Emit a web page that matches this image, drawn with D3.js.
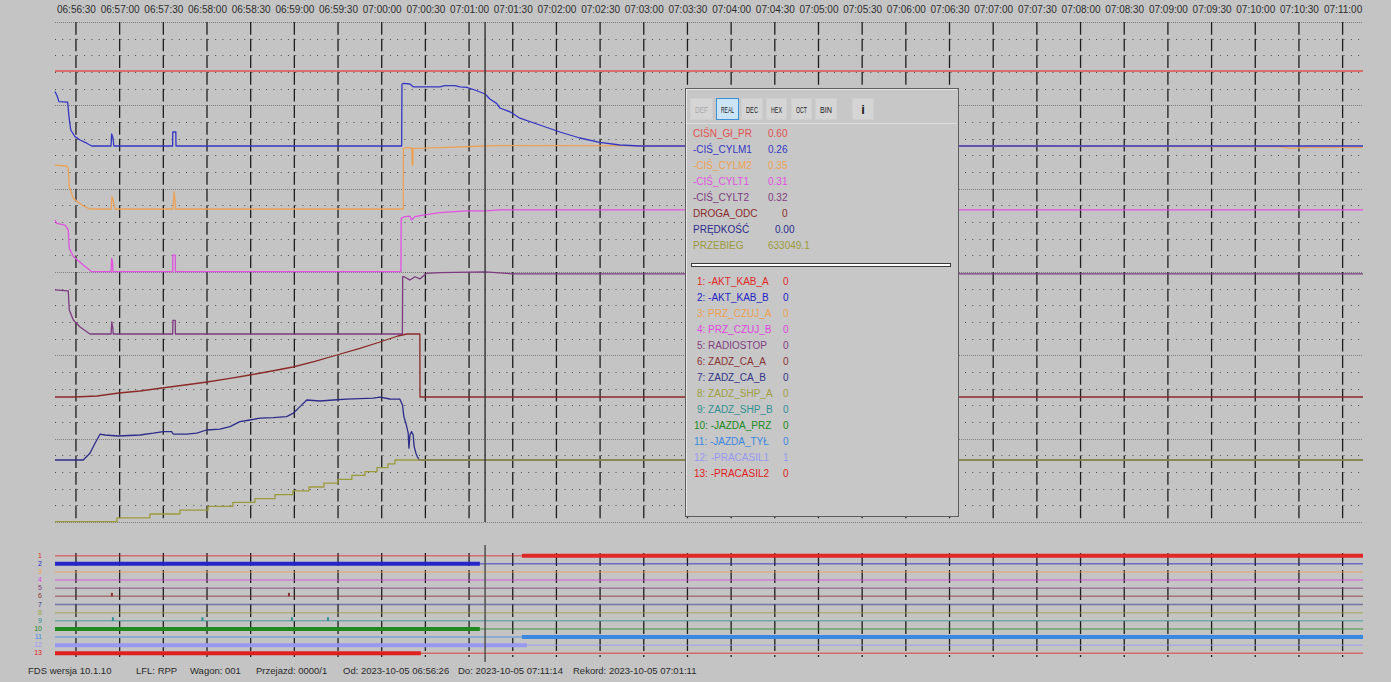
<!DOCTYPE html>
<html>
<head>
<meta charset="utf-8">
<script src="https://cdn.jsdelivr.net/npm/d3@7"></script>
<style>
  html, body { margin: 0; padding: 0; background: #c4c4c4; overflow: hidden; }
  svg { display: block; }
  text { font-family: "Liberation Sans", Arial, sans-serif; }
</style>
</head>
<body>
<svg id="chart" width="1391" height="682"></svg>
<script>
// ---------------------------------------------------------------
// Recorder data. Times are seconds after 06:56:00 (2023-10-05).
// ---------------------------------------------------------------
const tickLabels = ["06:56:30","06:57:00","06:57:30","06:58:00","06:58:30","06:59:00","06:59:30",
  "07:00:00","07:00:30","07:01:00","07:01:30","07:02:00","07:02:30","07:03:00","07:03:30",
  "07:04:00","07:04:30","07:05:00","07:05:30","07:06:00","07:06:30","07:07:00","07:07:30",
  "07:08:00","07:08:30","07:09:00","07:09:30","07:10:00","07:10:30","07:11:00"];
const viewStart = 15.6;
const recordEnd = "07:11:14";
const cursorTime = "07:01:11";

// CIŚN_Gł_PR [MPa]
const mainPipe = [[15.6, 0.60], [914, 0.60]];

// -CIŚ_CYLM1 [MPa]
const cylM1 = [[15.6,0.272],[17.2,0.247],[18.3,0.222],[24.3,0.219],[25.2,0.147],[26.4,0.080],[29.3,0.047],
  [32.8,0.030],[37.4,0.014],[40.8,0],[54.1,0],[54.5,0.06],[55.0,0.05],[55.6,0.03],[56.0,0],
  [96.4,0],[96.5,0.07],[98.6,0.07],[98.7,0],[253.7,0],[253.9,0.31],[255.2,0.313],[259.4,0.31],
  [261.6,0.296],[280,0.296],[283.4,0.302],[290.3,0.302],[293.7,0.296],[298.4,0.293],[304.0,0.28],
  [311,0.26],[314.3,0.235],[318.9,0.213],[321.2,0.19],[328.1,0.171],[334.9,0.139],[348.6,0.105],
  [362.4,0.07],[376.1,0.04],[389.8,0.018],[403.6,0.005],[417.3,0],[914,0]];

// -CIŚ_CYLM2 [MPa]
const cylM2 = [[15.6,0.244],[23.6,0.239],[24.7,0.226],[25.4,0.124],[28.2,0.059],[35.0,0.017],[39.6,0],
  [54.1,0],[54.7,0.068],[55.4,0.056],[56.8,0],[96.6,0],[97.4,0.096],[98.0,0.05],[98.3,0],
  [254.8,0],[254.9,0.337],[257.1,0.341],[260.7,0.339],[260.9,0.244],[261.4,0.244],[261.6,0.337],
  [263.9,0.337],[279.9,0.341],[311,0.35],[321.2,0.352],[856.8,0.347],[863.7,0.337],[877.4,0.342],[914,0.342]];

// -CIŚ_CYLT1 [MPa]
const cylT1 = [[15.6,0.264],[16.8,0.247],[22.5,0.238],[24.7,0.213],[25.4,0.119],[28.2,0.077],[35.0,0.034],
  [40.8,0],[54.1,0],[54.5,0.068],[55.1,0.05],[55.4,0],[96.4,0],[96.5,0.085],[98.2,0.085],[98.3,0],
  [253.2,0],[253.4,0.272],[255.9,0.281],[259.4,0.284],[260.5,0.264],[262.8,0.281],[268.5,0.289],
  [279.9,0.301],[298.3,0.31],[311,0.31],[321.2,0.315],[914,0.315]];

// -CIŚ_CYLT2 [MPa]
const cylT2 = [[15.6,0.227],[24.7,0.222],[25.4,0.124],[28.2,0.072],[32.8,0.036],[39.6,0],
  [54.1,0],[54.6,0.062],[55.3,0.03],[55.6,0],[96.4,0],[96.6,0.07],[98.2,0.07],[98.3,0],
  [254.2,0],[254.4,0.295],[255.4,0.295],[259.4,0.278],[262.8,0.295],[266.2,0.284],[270.8,0.313],
  [279.9,0.316],[311,0.32],[330,0.31],[914,0.31]];

// DROGA_ODC [m]
const distance = [[15.6,0],[29.3,0],[44.4,25],[59.5,100],[74,150],[89.1,225],[104.9,300],[120,375],
  [135.8,463],[149.5,550],[164.6,650],[179.0,750],[194.1,888],[209.2,1050],[225,1213],[238.8,1375],
  [251.1,1525],[257.3,1575],[266.2,1575],[266.3,0],[914,0]];

// PRĘDKOŚĆ [km/h]
const speed = [[15.6,0],[35.0,0],[39.6,3.4],[43.1,8.4],[46.5,12.9],[49.9,12.5],[59.1,12],[74.0,12.5],
  [83.1,13.4],[90.0,14.2],[95.7,14.2],[96.8,13],[106.0,12.9],[112.9,13.4],[119.8,15],[128.9,15.4],
  [135.8,16.7],[142.6,19.2],[149.5,20],[156.4,20.9],[165.5,21.2],[174.7,21.7],[179.3,23.4],[183.9,26.7],
  [188.5,30],[197.7,29.5],[206.7,30],[215.9,30.4],[234.2,30.9],[238.8,31.4],[245.6,30.5],[252.5,30.4],
  [254.3,27.5],[255.2,21.7],[256.6,18.4],[258.2,13.4],[258.7,5.9],[259.4,12.5],[260.5,14.2],[261.6,12.5],
  [262.3,6.7],[263.5,3.4],[264.4,1.7],[265.8,0],[914,0]];

// PRZEBIEG [km]
const mileage = [[15.6,633047.5],[58.2,633047.6],[80.8,633047.7],[101.4,633047.8],[120.7,633047.9],
  [137.8,633048.0],[152.9,633048.1],[166.7,633048.2],[179.0,633048.3],[190.0,633048.4],[200.3,633048.5],
  [209.9,633048.6],[219.5,633048.7],[228.5,633048.8],[236.7,633048.9],[244.3,633049.0],[249.1,633049.1],
  [914,633049.1]];

const analogNames  = ["CIŚN_Gł_PR","-CIŚ_CYLM1","-CIŚ_CYLM2","-CIŚ_CYLT1","-CIŚ_CYLT2","DROGA_ODC","PRĘDKOŚĆ","PRZEBIEG"];
const analogValues = ["0.60","0.26","0.35","0.31","0.32","0","0.00","633049.1"];

// Binary channels
const laneNames = ["-AKT_KAB_A","-AKT_KAB_B","PRZ_CZUJ_A","PRZ_CZUJ_B","RADIOSTOP","ZADZ_CA_A","ZADZ_CA_B",
  "ZADZ_SHP_A","ZADZ_SHP_B","-JAZDA_PRZ","-JAZDA_TYŁ","-PRACASIL1","-PRACASIL2"];
const laneValues = [0,0,0,0,0,0,0,0,0,0,0,1,0];
const laneActive = [[[336.3,914]],[[15.6,307.4]],[],[],[],[],[],[],[],[[15.6,307.4]],[[336.3,914]],[[15.6,339.7]],[[15.6,266.9]]];
const lanePulses = [[],[],[],[],[],[54.7,176.3],[],[],[55.4,116.9,178.3,203.1],[],[],[],[]];

const buttons = ["DEF","REAL","DEC","HEX","OCT","BIN","i"];
const footerItems = ["FDS wersja 10.1.10","LFL: RPP","Wagon: 001","Przejazd: 0000/1",
  "Od: 2023-10-05 06:56:26","Do: 2023-10-05 07:11:14","Rekord: 2023-10-05 07:01:11"];

// ---------------------------------------------------------------
// Layout and styling
// ---------------------------------------------------------------
const secs = s => { const [h, m, sc] = s.split(":").map(Number); return h * 3600 + m * 60 + sc - (6 * 3600 + 56 * 60); };
const plot = { left: 55, right: 1363, top: 22, bottom: 522 };
const x = d3.scaleLinear().domain([viewStart, secs(recordEnd)]).range([plot.left, plot.right]);

const analogColors = ["#e05050","#3636c4","#eca255","#e052e0","#7e3a80","#8a2a2a","#2c2c8a","#9a9a3c"];
const laneColors = ["#e02828","#2424c8","#eea050","#e044e0","#80407e","#8a3434","#34348a","#a0a040",
  "#309090","#208a20","#3a88e0","#9898f0","#e02020"];

// value scales of the stacked analog traces
const yMain  = d3.scaleLinear().domain([0, 1]).range([191, -9]);
const yM1    = d3.scaleLinear().domain([0, 1]).range([146, -54]);
const yM2    = d3.scaleLinear().domain([0, 1]).range([209, 29]);
const yT1    = d3.scaleLinear().domain([0, 1]).range([271.7, 75.7]);
const yT2    = d3.scaleLinear().domain([0, 1]).range([334, 140]);
const yDist  = d3.scaleLinear().domain([0, 2000]).range([397, 317]);
const ySpeed = d3.scaleLinear().domain([0, 40]).range([460, 380]);
const yMile  = d3.scaleLinear().domain([633047.5, 633049.1]).range([521.7, 460]);

const svg = d3.select("#chart");
svg.append("rect").attr("width", 1391).attr("height", 682).attr("fill", "#c4c4c4");

// horizontal grid
const gridG = svg.append("g");
const rows = d3.range(31).map(i => plot.top + i * (plot.bottom - plot.top) / 30);
gridG.selectAll("line.row").data(rows).join("line")
  .attr("x1", plot.left).attr("x2", plot.right)
  .attr("y1", d => Math.round(d) + 0.5).attr("y2", d => Math.round(d) + 0.5)
  .attr("stroke", (d, i) => i % 5 === 0 ? "#7c7c7c" : "#4a4a4a")
  .attr("stroke-width", 1)
  .attr("stroke-dasharray", (d, i) => i % 5 === 0 ? "1,1" : "1,6.28");

// vertical grid
const tickSecs = tickLabels.map(secs);
gridG.selectAll("line.col").data(tickSecs).join("line")
  .attr("x1", d => x(d)).attr("x2", d => x(d))
  .attr("y1", plot.top).attr("y2", plot.bottom)
  .attr("stroke", "#1e1e1e").attr("stroke-width", 1.3)
  .attr("stroke-dasharray", "12.7,3.97");

// time axis
const axis = d3.axisTop(x).tickValues(tickSecs).tickFormat((d, i) => tickLabels[i]).tickSize(0).tickPadding(0);
const axG = svg.append("g").attr("transform", "translate(0,13)").call(axis);
axG.select(".domain").remove();
axG.selectAll("text").attr("font-size", 10).attr("fill", "#2e2e2e")
  .attr("font-family", "'Liberation Sans', Arial, sans-serif");

// analog traces
const traces = [
  { data: mainPipe, y: yMain, c: analogColors[0], w: 1.5 },
  { data: cylT2, y: yT2, c: analogColors[4], w: 1.3 },
  { data: cylT1, y: yT1, c: analogColors[3], w: 1.3 },
  { data: cylM2, y: yM2, c: analogColors[2], w: 1.3 },
  { data: cylM1, y: yM1, c: analogColors[1], w: 1.3 },
  { data: distance, y: yDist, c: analogColors[5], w: 1.3 },
  { data: speed, y: ySpeed, c: analogColors[6], w: 1.3 },
  { data: mileage, y: yMile, c: analogColors[7], w: 1.3, step: true }
];
const traceG = svg.append("g");
traces.forEach(t => {
  const line = d3.line().x(d => x(d[0])).y(d => t.y(d[1]));
  if (t.step) line.curve(d3.curveStepAfter);
  traceG.append("path").datum(t.data).attr("d", line)
    .attr("fill", "none").attr("stroke", t.c).attr("stroke-width", t.w)
    .attr("stroke-linejoin", "round");
});

// cursor
const cx = x(secs(cursorTime));
svg.append("line").attr("x1", cx).attr("x2", cx).attr("y1", plot.top).attr("y2", plot.bottom)
  .attr("stroke", "#3c3c3c").attr("stroke-width", 1.5);

// ---------------------------------------------------------------
// Value panel
// ---------------------------------------------------------------
const panel = svg.append("g");
const P = { x: 685, y: 88, w: 273, h: 428 };
panel.append("rect").attr("x", P.x + 0.5).attr("y", P.y + 0.5).attr("width", P.w).attr("height", P.h)
  .attr("fill", "#c7c7c7").attr("stroke", "#5e5e5e");
panel.append("path").attr("d", `M${P.x + 1.5},${P.y + P.h - 1}V${P.y + 1.5}H${P.x + P.w - 1}`)
  .attr("fill", "none").attr("stroke", "#e6e6e6");
panel.append("line").attr("x1", P.x + 2).attr("x2", P.x + P.w - 1).attr("y1", 123.5).attr("y2", 123.5)
  .attr("stroke", "#dedede");

const btnX = [690, 716, 741, 766, 791, 815, 852];
const btnW = [22, 22, 21, 20, 20, 21, 21];
buttons.forEach((b, i) => {
  const sel = b === "REAL";
  panel.append("rect").attr("x", btnX[i] + 0.5).attr("y", 98.5).attr("width", btnW[i]).attr("height", 21)
    .attr("fill", sel ? "#cce4f7" : "#d5d5d5").attr("stroke", sel ? "#3d8fd6" : "#cfcfcf");
  const t = panel.append("text").attr("x", btnX[i] + btnW[i] / 2 + 0.5).attr("y", b === "i" ? 114 : 113)
    .attr("text-anchor", "middle")
    .attr("font-size", b === "i" ? 13 : 9).attr("font-weight", b === "i" ? "bold" : "normal")
    .attr("font-family", b === "i" ? "'Liberation Serif', serif" : "'DejaVu Sans Condensed','Liberation Sans Narrow',sans-serif")
    .attr("fill", b === "DEF" ? "#a9a9a9" : "#1c1c1c").text(b);
  if (b !== "i") t.attr("textLength", btnW[i] - 9).attr("lengthAdjust", "spacingAndGlyphs");
});

const valueX = [768, 768, 768, 768, 768, 782, 775, 768];
analogNames.forEach((n, i) => {
  const yy = 133.3 + i * 16.05 + 3.6;
  panel.append("text").attr("x", 693).attr("y", yy).attr("font-size", 10).attr("fill", analogColors[i]).text(n);
  panel.append("text").attr("x", valueX[i]).attr("y", yy).attr("font-size", 10).attr("fill", analogColors[i]).text(analogValues[i]);
});

panel.append("rect").attr("x", 691.5).attr("y", 263.5).attr("width", 259).attr("height", 3)
  .attr("fill", "#ffffff").attr("stroke", "#3a3a3a");

laneNames.forEach((n, i) => {
  const yy = 281.7 + i * 15.97 + 3.6;
  panel.append("text").attr("x", i < 9 ? 697 : 694).attr("y", yy).attr("font-size", 10)
    .attr("fill", laneColors[i]).text(`${i + 1}: ${n}`);
  panel.append("text").attr("x", 783).attr("y", yy).attr("font-size", 10)
    .attr("fill", laneColors[i]).text(laneValues[i]);
});

// ---------------------------------------------------------------
// Binary channel lanes
// ---------------------------------------------------------------
const laneY = d3.scaleLinear().domain([1, 13]).range([555.7, 653.3]);
const laneG = svg.append("g");
laneG.selectAll("line.tick").data(tickSecs).join("line")
  .attr("x1", d => x(d)).attr("x2", d => x(d)).attr("y1", 553).attr("y2", 657)
  .attr("stroke", "#1e1e1e").attr("stroke-width", 1.3).attr("stroke-dasharray", "13,4");

laneNames.forEach((n, i) => {
  const yy = laneY(i + 1);
  laneG.append("line").attr("x1", plot.left).attr("x2", plot.right).attr("y1", yy).attr("y2", yy)
    .attr("stroke", laneColors[i]).attr("stroke-opacity", 0.55).attr("stroke-width", 1.5);
  laneActive[i].forEach(seg => {
    laneG.append("line").attr("x1", x(seg[0])).attr("x2", x(seg[1])).attr("y1", yy).attr("y2", yy)
      .attr("stroke", laneColors[i]).attr("stroke-width", 4);
  });
  lanePulses[i].forEach(t => {
    laneG.append("rect").attr("x", x(t) - 1).attr("y", yy - 3.5).attr("width", 2).attr("height", 3.5)
      .attr("fill", laneColors[i]);
  });
  laneG.append("text").attr("x", 42).attr("y", yy + 2).attr("text-anchor", "end")
    .attr("font-size", 7).attr("fill", laneColors[i]).text(i + 1);
});
laneG.append("line").attr("x1", cx).attr("x2", cx).attr("y1", 545).attr("y2", 662)
  .attr("stroke", "#505050").attr("stroke-width", 1.5);

// status bar
const footerX = [28, 136, 190, 256, 343, 458, 573];
footerItems.forEach((f, i) => {
  svg.append("text").attr("x", footerX[i]).attr("y", 673.5).attr("font-size", 9.5).attr("fill", "#2a2a2a").text(f);
});
</script>
</body>
</html>
